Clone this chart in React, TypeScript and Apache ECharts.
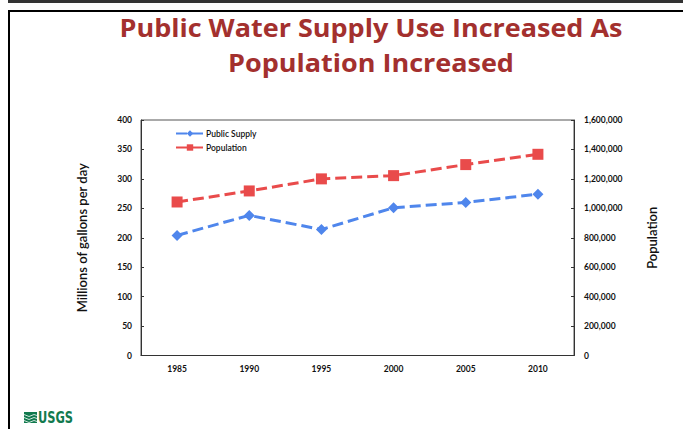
import React, { useEffect, useRef } from "react";
import * as echarts from "echarts";

const years = ["1985", "1990", "1995", "2000", "2005", "2010"];
const publicSupply = [204, 238, 214, 251, 260, 274];
const population = [1043000, 1118000, 1200000, 1222000, 1297000, 1367000];
const titleLines = ["Public Water Supply Use Increased As", "Population Increased"];

const BLUE = "#4F86EC";
const RED = "#E94B4B";
const LABEL_FONT = "Lato, 'Open Sans', sans-serif";

export default function App() {
  const ref = useRef<HTMLDivElement>(null);
  useEffect(() => {
    if (!ref.current) return;
    const chart = echarts.init(ref.current, undefined, { renderer: "svg" });
    const tickLabel = {
      fontFamily: LABEL_FONT,
      fontSize: 8.5,
      fontWeight: "bold" as const,
      color: "#111",
    };
    const nameStyle = { fontFamily: LABEL_FONT, fontSize: 13, color: "#111", fontWeight: 600 };
    const titleStyle = {
      fontFamily: "'Open Sans', sans-serif",
      fontWeight: "bold",
      fontSize: 25,
      fill: "#A3302E",
      textAlign: "center",
      textVerticalAlign: "middle",
    };
    chart.setOption({
      animation: false,
      backgroundColor: "#fff",
      grid: {
        left: 141,
        right: 109,
        top: 120,
        bottom: 73.5,
        show: true,
        borderColor: "#555",
        borderWidth: 1,
      },
      legend: {
        left: 170,
        top: 124,
        orient: "vertical",
        itemWidth: 28,
        itemHeight: 8,
        itemGap: 5,
        textStyle: { fontFamily: LABEL_FONT, fontSize: 8.5, color: "#111", fontWeight: 600, padding: [0, 0, 0, -3] },
        data: ["Public Supply", "Population"],
      },
      xAxis: {
        type: "category",
        data: years,
        boundaryGap: true,
        axisLine: { lineStyle: { color: "#333", width: 1 } },
        axisTick: { inside: true, length: 4, lineStyle: { color: "#333" } },
        axisLabel: { ...tickLabel, margin: 9 },
        splitLine: { show: false },
      },
      yAxis: [
        {
          type: "value",
          min: 0,
          max: 400,
          interval: 50,
          position: "left",
          name: "Millions of gallons per day",
          nameLocation: "middle",
          nameRotate: 90,
          nameGap: 53,
          nameTextStyle: nameStyle,
          axisLine: { show: true, lineStyle: { color: "#333", width: 1 } },
          axisTick: { show: true, inside: true, length: 3, lineStyle: { color: "#333" } },
          axisLabel: { ...tickLabel, margin: 9 },
          splitLine: { show: false },
        },
        {
          type: "value",
          min: 0,
          max: 1600000,
          interval: 200000,
          position: "right",
          name: "Population",
          nameLocation: "middle",
          nameRotate: 90,
          nameGap: 71,
          nameTextStyle: nameStyle,
          axisLine: { show: true, lineStyle: { color: "#333", width: 1 } },
          axisTick: { show: true, inside: true, length: 3, lineStyle: { color: "#333" } },
          axisLabel: {
            ...tickLabel,
            margin: 10,
            formatter: (v: number) => v.toLocaleString("en-US"),
          },
          splitLine: { show: false },
        },
      ],
      series: [
        {
          name: "Public Supply",
          type: "line",
          yAxisIndex: 0,
          data: publicSupply,
          symbol: "diamond",
          symbolSize: 11,
          itemStyle: { color: BLUE },
          lineStyle: { color: BLUE, width: 3, type: [11, 5] },
        },
        {
          name: "Population",
          type: "line",
          yAxisIndex: 1,
          data: population,
          symbol: "rect",
          symbolSize: 11,
          itemStyle: { color: RED },
          lineStyle: { color: RED, width: 3, type: [11, 5] },
        },
      ],
      graphic: [
        { type: "rect", shape: { x: 8, y: 0, width: 680, height: 3 }, style: { fill: "#333" } },
        {
          type: "rect",
          shape: { x: 9, y: 11, width: 700, height: 500 },
          style: { fill: "none", stroke: "#000", lineWidth: 2 },
        },
        {
          type: "text",
          x: 371,
          y: 27.5,
          scaleX: 1.08,
          style: { ...titleStyle, text: titleLines[0] },
        },
        {
          type: "text",
          x: 371,
          y: 62,
          scaleX: 1.08,
          style: { ...titleStyle, text: titleLines[1] },
        },
        { type: "rect", shape: { x: 24, y: 412, width: 13, height: 11 }, style: { fill: "#127A4E" } },
        {
          type: "polyline",
          shape: { points: [[24, 414.5], [29, 416.5], [34, 414.5], [37, 415.5]] },
          style: { stroke: "#fff", lineWidth: 0.8, fill: "none" },
        },
        {
          type: "polyline",
          shape: { points: [[24, 417.5], [29, 419.5], [34, 417.5], [37, 418.5]] },
          style: { stroke: "#fff", lineWidth: 0.8, fill: "none" },
        },
        {
          type: "polyline",
          shape: { points: [[24, 420.5], [29, 422.5], [34, 420.5], [37, 421.5]] },
          style: { stroke: "#fff", lineWidth: 0.8, fill: "none" },
        },
        {
          type: "text",
          x: 38,
          y: 418,
          scaleX: 0.82,
          style: {
            text: "USGS",
            fontFamily: "'Liberation Sans Narrow', 'DejaVu Sans Condensed', sans-serif",
            fontWeight: "bold",
            fontSize: 15.5,
            fill: "#127A4E",
            textAlign: "left",
            textVerticalAlign: "middle",
          },
        },
      ],
    });
    return () => chart.dispose();
  }, []);
  return (
    <div
      ref={ref}
      style={{ position: "fixed", left: 0, top: 0, width: 683, height: 429 }}
    />
  );
}
